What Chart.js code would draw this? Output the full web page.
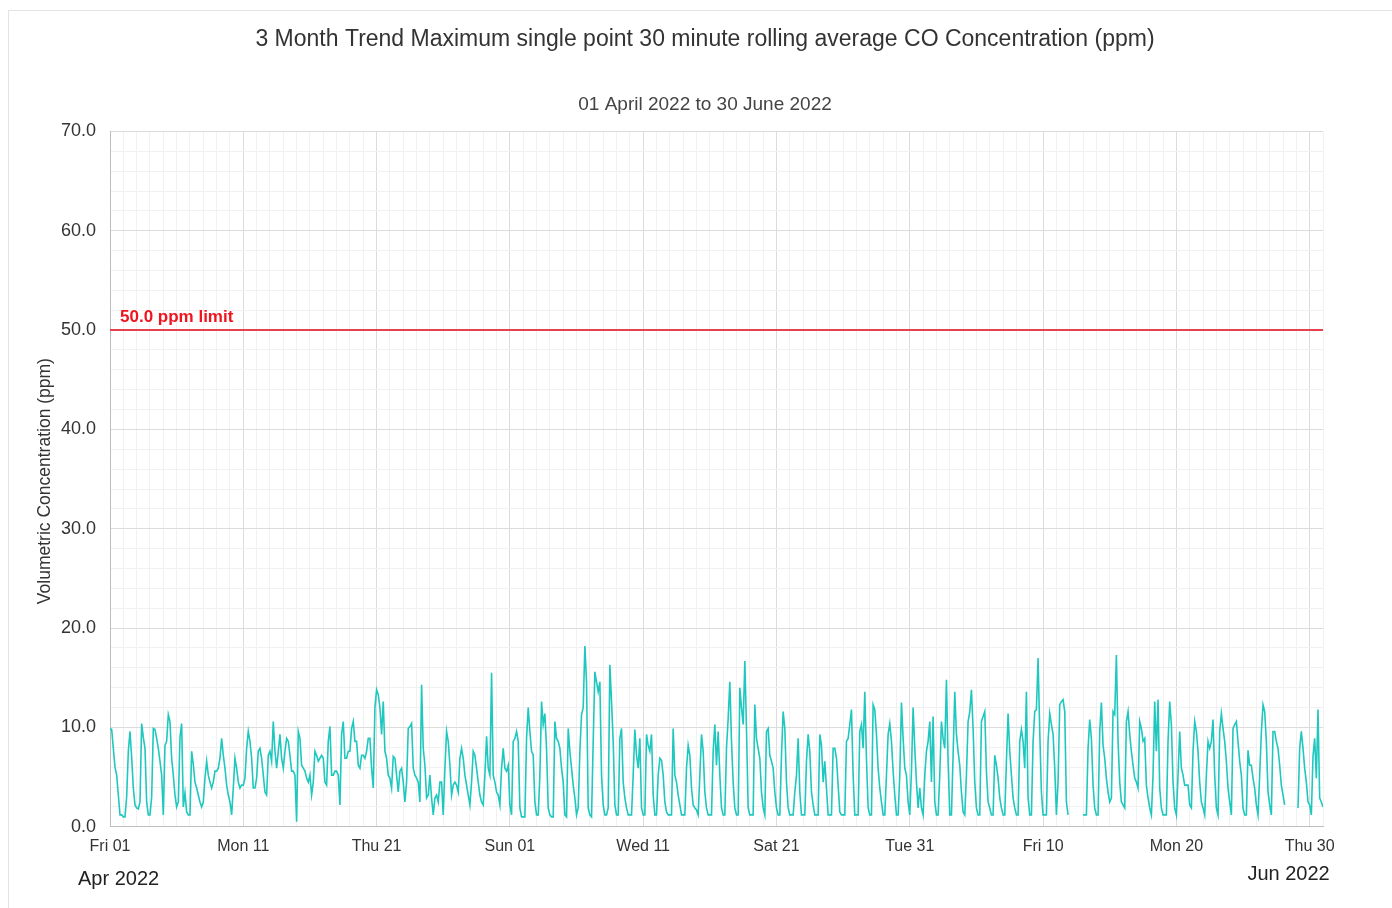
<!DOCTYPE html>
<html lang="en">
<head>
  <meta charset="UTF-8">
  <title>3 Month Trend CO Concentration</title>
  <script src="https://cdn.jsdelivr.net/npm/chart.js"></script>
  <style>
    html, body {
      margin: 0;
      padding: 0;
      background: #fff;
      overflow: hidden;
    }
    #frame {
      position: absolute;
      left: 8px;
      top: 10px;
      width: 1400px;
      height: 920px;
      border: 1px solid #e3e3e3;
    }
    #chart-container {
      position: absolute;
      left: 0;
      top: 0;
      width: 1392px;
      height: 908px;
    }
  </style>
</head>
<body>
  <div id="frame"></div>
  <div id="chart-container">
    <canvas id="coChart"></canvas>
  </div>

  <script>
    // readings every 3 hours from 01 Apr 2022 00:00, one row per day (null = no data)
    const sampleHours = 3;
    const coValues = [
      9.9, 9.8, 7.9, 6.0, 5.2, 3.2, 1.2, 1.2,
      1.0, 1.0, 3.0, 7.6, 9.6, 7.0, 3.9, 2.2,
      1.9, 1.8, 2.5, 10.4, 9.0, 7.9, 2.5, 1.2,
      1.2, 3.0, 9.9, 9.8, 8.9, 7.9, 6.6, 5.2,
      1.2, 8.2, 8.6, 11.3, 10.6, 6.9, 5.2, 3.2,
      2.0, 2.5, 9.0, 10.4, 2.0, 3.4, 1.5, 1.2,
      1.2, 7.6, 6.3, 4.5, 3.9, 3.2, 2.5, 2.0,
      2.5, 4.9, 6.6, 5.2, 4.5, 3.9, 4.5, 5.6,
      5.6, 5.9, 6.9, 8.9, 7.2, 5.9, 4.2, 3.2,
      2.5, 1.2, 3.9, 6.9, 5.9, 4.5, 3.9, 4.2,
      4.2, 4.9, 7.9, 9.6, 8.6, 6.9, 3.9, 3.9,
      4.9, 7.6, 7.9, 6.9, 5.2, 3.5, 3.2, 7.2,
      7.6, 6.6, 10.6, 7.6, 5.9, 7.6, 9.3, 6.9,
      5.9, 7.6, 8.9, 8.6, 7.2, 5.6, 5.6, 5.2,
      0.5, 9.6, 8.9, 6.2, 5.9, 5.6, 4.9, 4.5,
      5.2, 3.2, 4.5, 7.6, 7.2, 6.6, 6.9, 7.2,
      6.9, 4.5, 4.2, 8.6, 10.1, 5.2, 5.2, 5.6,
      5.6, 5.2, 2.2, 9.3, 10.6, 6.9, 6.9, 7.6,
      7.6, 9.9, 10.6, 8.6, 8.6, 6.2, 5.9, 7.2,
      7.2, 6.9, 7.6, 8.9, 8.9, 5.9, 3.9, 12.0,
      13.8, 13.3, 12.0, 9.3, 12.6, 7.6, 6.9, 5.2,
      4.9, 3.9, 7.1, 6.9, 5.2, 3.5, 5.6, 5.9,
      4.5, 2.5, 4.5, 9.9, 10.1, 10.4, 5.9, 5.2,
      4.9, 4.5, 2.5, 14.3, 7.9, 6.2, 2.9, 3.2,
      5.2, 2.9, 1.2, 2.9, 3.2, 2.5, 4.5, 4.5,
      1.2, 5.9, 9.6, 8.6, 6.2, 3.2, 4.2, 4.5,
      4.2, 3.5, 6.9, 7.9, 6.9, 5.2, 4.2, 3.2,
      2.2, 4.5, 7.6, 7.2, 5.9, 4.5, 3.2, 2.5,
      2.2, 5.2, 9.1, 5.9, 5.2, 15.5, 5.2, 4.5,
      3.5, 3.2, 2.2, 5.9, 7.9, 5.9, 5.6, 6.2,
      2.2, 1.2, 8.6, 8.9, 9.6, 8.6, 1.9, 1.0,
      1.0, 1.0, 8.9, 12.0, 9.6, 7.6, 7.2, 2.5,
      1.2, 1.2, 5.2, 12.6, 10.3, 11.4, 7.9, 1.9,
      1.2, 1.0, 1.0, 10.6, 8.9, 8.6, 7.9, 5.9,
      4.5, 1.2, 1.0, 9.9, 7.6, 5.9, 4.2, 2.9,
      1.2, 1.9, 7.6, 11.3, 12.0, 18.2, 14.6, 1.9,
      1.2, 1.0, 8.6, 15.6, 14.6, 13.6, 14.6, 5.2,
      2.2, 1.2, 1.2, 1.9, 16.3, 12.6, 8.6, 2.2,
      1.2, 1.2, 8.9, 9.9, 4.5, 2.9, 1.9, 1.2,
      1.2, 1.2, 5.2, 9.8, 7.2, 5.9, 8.9, 1.9,
      1.2, 1.2, 9.3, 8.2, 7.6, 9.3, 3.2, 1.2,
      1.2, 5.2, 6.9, 6.7, 5.2, 2.5, 1.5, 1.2,
      1.2, 1.2, 9.9, 5.2, 4.5, 3.2, 2.2, 1.2,
      1.2, 1.2, 5.9, 8.2, 7.2, 3.9, 2.2, 1.9,
      1.7, 1.2, 5.2, 9.3, 7.6, 3.5, 1.9, 1.2,
      1.2, 1.2, 7.6, 10.3, 6.2, 9.6, 5.2, 1.9,
      1.2, 1.2, 7.9, 10.9, 14.6, 8.6, 4.5, 1.9,
      1.2, 1.2, 14.0, 12.0, 10.3, 16.7, 9.9, 1.9,
      1.2, 1.2, 1.2, 12.3, 8.9, 7.9, 6.9, 3.5,
      1.9, 1.2, 9.6, 9.9, 7.2, 6.6, 5.9, 3.5,
      1.9, 1.2, 1.2, 7.2, 11.6, 9.9, 4.5, 1.9,
      1.2, 1.2, 1.2, 3.5, 5.2, 8.9, 3.5, 1.2,
      1.2, 1.2, 6.6, 9.3, 7.6, 3.5, 2.2, 1.2,
      1.2, 1.2, 9.3, 8.2, 4.5, 6.6, 3.9, 1.2,
      1.2, 1.2, 7.9, 7.9, 6.9, 4.2, 1.5, 1.2,
      1.2, 1.2, 8.6, 8.9, 10.3, 11.8, 5.2, 1.2,
      1.2, 1.2, 9.6, 10.3, 7.9, 13.6, 6.9, 1.9,
      1.2, 1.2, 12.3, 11.8, 9.3, 5.9, 3.9, 2.5,
      1.2, 1.2, 5.2, 9.3, 10.4, 8.6, 5.6, 3.2,
      1.2, 1.2, 5.2, 12.5, 8.9, 5.9, 5.2, 2.5,
      1.2, 5.6, 12.0, 7.9, 4.5, 1.9, 3.9, 1.9,
      1.2, 5.2, 7.6, 8.6, 10.6, 4.5, 11.1, 2.5,
      1.2, 1.2, 5.2, 10.6, 8.9, 7.9, 14.8, 6.6,
      1.2, 1.2, 7.2, 13.6, 9.3, 7.6, 6.2, 3.5,
      1.5, 1.2, 5.2, 10.6, 11.6, 13.8, 9.9, 4.5,
      1.9, 1.2, 1.2, 10.6, 11.1, 11.6, 5.6, 2.5,
      1.9, 1.2, 1.2, 7.2, 6.2, 4.9, 2.9, 1.9,
      1.2, 1.2, 6.6, 11.4, 7.6, 5.2, 2.9, 1.9,
      1.2, 1.2, 8.6, 9.8, 8.6, 5.9, 13.6, 2.9,
      1.2, 1.2, 8.6, 11.6, 11.8, 17.0, 9.6, 3.5,
      1.2, 1.2, 1.2, 8.6, 11.4, 10.3, 9.3, 5.9,
      1.2, 4.5, 12.3, 12.6, 12.8, 11.6, 2.5, 1.2,
      null, null, null, null, null, null, null, null,
      1.2, 1.2, 1.2, 7.9, 10.8, 8.9, 4.2, 1.9,
      1.2, 1.2, 9.6, 12.5, 8.2, 6.9, 4.9, 3.5,
      2.5, 2.9, 11.6, 11.3, 17.3, 8.6, 4.5, 2.5,
      2.2, 1.9, 10.6, 11.6, 9.3, 7.6, 6.2, 4.9,
      4.5, 3.9, 10.6, 9.9, 8.6, 8.9, 4.2, 2.9,
      1.9, 1.2, 5.2, 12.6, 7.6, 12.8, 3.9, 1.9,
      1.2, 1.2, 1.2, 8.6, 12.6, 10.3, 4.5, 1.9,
      1.2, 5.2, 9.6, 5.9, 5.2, 4.2, 4.2, 4.2,
      2.2, 1.9, 7.6, 10.6, 9.6, 7.6, 4.5, 2.5,
      1.9, 1.2, 5.2, 8.6, 7.9, 8.6, 10.8, 5.2,
      1.9, 1.2, 9.6, 11.4, 9.9, 8.6, 6.6, 3.9,
      2.5, 1.2, 9.9, 10.3, 10.6, 8.6, 6.6, 5.2,
      1.9, 1.2, 1.2, 7.7, 6.2, 6.2, 4.9, 3.9,
      2.2, 1.2, 5.2, 9.5, 12.3, 11.6, 8.6, 3.5,
      2.2, 1.2, 9.6, 9.6, 8.6, 7.9, 6.2, 4.2,
      3.2, 2.2, null, null, null, null, null, null,
      null, 1.9, 7.9, 9.6, 7.9, 5.9, 4.5, 2.5,
      2.2, 1.2, 7.1, 8.9, 4.9, 11.8, 2.9, 2.5,
      2.0
    ];

    const totalDays = 91;
    const xTickLabels = ['Fri 01', 'Mon 11', 'Thu 21', 'Sun 01', 'Wed 11', 'Sat 21', 'Tue 31', 'Fri 10', 'Mon 20', 'Thu 30'];
    const monthLabels = ['Apr 2022', 'Jun 2022'];
    const limitValue = 50;
    const limitLabel = '50.0 ppm limit';
    const yMax = 70;
    const yTitle = 'Volumetric Concentration (ppm)';

    const fontFamily = "'Liberation Sans', Arial, sans-serif";
    Chart.defaults.font.family = fontFamily;
    Chart.defaults.color = '#333';

    const points = coValues.map((v, i) => ({ x: i * sampleHours / 24, y: v }));

    // extra texts: limit label, month labels, rotated y axis title
    const overlayText = {
      id: 'overlayText',
      afterDatasetsDraw(chart) {
        const { ctx, chartArea, scales } = chart;
        ctx.save();
        ctx.font = 'bold 17px ' + fontFamily;
        ctx.fillStyle = '#f0141e';
        ctx.textAlign = 'left';
        ctx.textBaseline = 'alphabetic';
        ctx.fillText(limitLabel, chartArea.left + 10, scales.y.getPixelForValue(limitValue) - 8);

        ctx.font = '20px ' + fontFamily;
        ctx.fillStyle = '#222';
        ctx.fillText(monthLabels[0], scales.x.getPixelForValue(0) - 32, chartArea.bottom + 58);
        ctx.textAlign = 'right';
        ctx.fillText(monthLabels[1], scales.x.getPixelForValue(90) + 20, chartArea.bottom + 53);

        ctx.translate(45, (chartArea.top + chartArea.bottom) / 2 + 2);
        ctx.rotate(-Math.PI / 2);
        ctx.font = '17.5px ' + fontFamily;
        ctx.fillStyle = '#333';
        ctx.textAlign = 'center';
        ctx.textBaseline = 'middle';
        ctx.fillText(yTitle, 0, 0);
        ctx.restore();
      }
    };

    const ctx = document.getElementById('coChart').getContext('2d');
    new Chart(ctx, {
      type: 'line',
      data: {
        datasets: [
          {
            label: 'CO',
            data: points,
            borderColor: 'rgb(30, 200, 190)',
            borderWidth: 1.6,
            pointRadius: 0,
            tension: 0,
            spanGaps: false
          },
          {
            label: 'Limit',
            data: [{ x: 0, y: limitValue }, { x: totalDays, y: limitValue }],
            borderColor: '#e8414e',
            borderWidth: 2,
            pointRadius: 0
          }
        ]
      },
      options: {
        responsive: true,
        maintainAspectRatio: false,
        animation: false,
        parsing: false,
        layout: {
          padding: { left: 87, right: 69, top: 0, bottom: 42 }
        },
        scales: {
          x: {
            type: 'linear',
            min: 0,
            max: totalDays,
            border: { color: '#bdbdbd' },
            grid: {
              drawTicks: false,
              color: c => (c.tick && c.tick.value % 10 === 0) ? '#dcdcdc' : '#f1f1f1'
            },
            ticks: {
              stepSize: 1,
              autoSkip: false,
              maxRotation: 0,
              padding: 10,
              font: { size: 16 },
              color: '#333',
              callback: value => value % 10 === 0 && value / 10 < xTickLabels.length ? xTickLabels[value / 10] : ''
            }
          },
          y: {
            min: 0,
            max: yMax,
            border: { color: '#bdbdbd' },
            afterFit: scale => { scale.width = 23; },
            grid: {
              drawTicks: false,
              color: c => (c.tick && c.tick.value % 10 === 0) ? '#dcdcdc' : '#f1f1f1'
            },
            ticks: {
              stepSize: 2,
              autoSkip: false,
              mirror: true,
              crossAlign: 'far',
              padding: -49,
              font: { size: 18 },
              color: '#333',
              callback: value => value % 10 === 0 ? value.toFixed(1) : ''
            }
          }
        },
        plugins: {
          legend: { display: false },
          tooltip: { enabled: false },
          title: {
            display: true,
            text: '3 Month Trend Maximum single point 30 minute rolling average CO Concentration (ppm)',
            font: { size: 23, weight: 'normal' },
            color: '#333',
            padding: { top: 26, bottom: 28 }
          },
          subtitle: {
            display: true,
            text: '01 April 2022 to 30 June 2022',
            font: { size: 19 },
            color: '#444',
            padding: { top: 12, bottom: 15 }
          }
        }
      },
      plugins: [overlayText]
    });
  </script>
</body>
</html>
